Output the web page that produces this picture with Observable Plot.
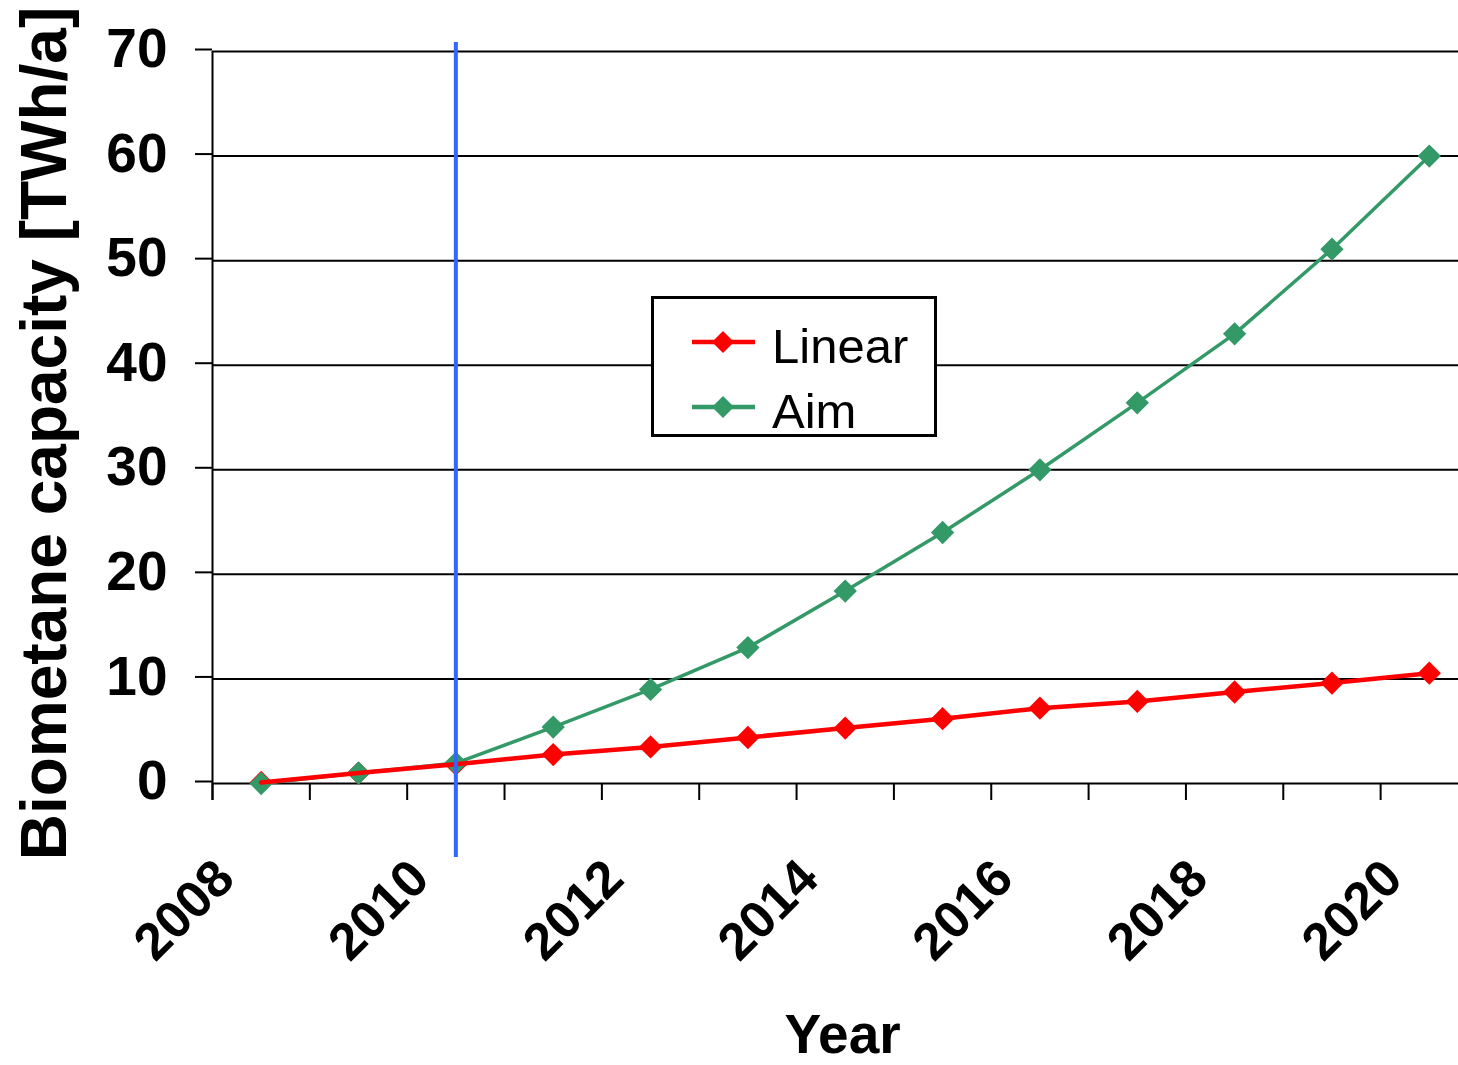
<!DOCTYPE html>
<html>
<head>
<meta charset="utf-8">
<script src="https://cdn.jsdelivr.net/npm/d3@7"></script>
<script src="https://cdn.jsdelivr.net/npm/@observablehq/plot@0.6"></script>
<style>
  html, body { margin: 0; padding: 0; background: #fff; }
  #wrap { position: relative; width: 1458px; height: 1065px; overflow: hidden; font-family: "Liberation Sans", Arial, sans-serif; }
  #legend { position: absolute; left: 651px; top: 296px; }
</style>
</head>
<body>
<div id="wrap"></div>
<script>
// ---- data ----
const years = [2008, 2009, 2010, 2011, 2012, 2013, 2014, 2015, 2016, 2017, 2018, 2019, 2020];
const linear = [0.1, 1.0, 1.85, 2.77, 3.5, 4.4, 5.3, 6.2, 7.2, 7.85, 8.75, 9.6, 10.55];
const aim = [0.0, 1.0, 1.95, 5.4, 9.0, 13.0, 18.4, 24.0, 30.0, 36.4, 43.0, 51.1, 60.0];
const yTicks = [0, 10, 20, 30, 40, 50, 60, 70];
const xLabelYears = [2008, 2010, 2012, 2014, 2016, 2018, 2020];
const presentYear = 2010;
const seriesNames = ["Linear", "Aim"];
const seriesColors = ["#FF0000", "#339966"];
const yTitle = "Biometane capacity [TWh/a]";
const xTitle = "Year";

const rows = years.map((year, i) => ({year, linear: linear[i], aim: aim[i]}));
const boundaries = d3.range(years[0] - 0.5, years[years.length - 1], 1);

const font = "Liberation Sans, Arial, sans-serif";

const chart = Plot.plot({
  width: 1458,
  height: 1065,
  marginLeft: 212,
  marginRight: 0,
  marginTop: 51,
  marginBottom: 282,
  style: {fontFamily: font, background: "#fff", color: "#000"},
  x: {domain: [years[0] - 0.5, 2020.3]},
  y: {domain: [0, 70]},
  marks: [
    Plot.gridY(yTicks, {stroke: "#000", strokeOpacity: 1, strokeWidth: 2}),
    Plot.axisY(yTicks, {tickSize: 17, tickPadding: 28, fontSize: 55, fontWeight: "bold", strokeWidth: 2, label: null, dy: -2}),
    Plot.axisX(boundaries, {tickSize: 17, tickFormat: () => "", strokeWidth: 2, label: null}),
    Plot.ruleX([boundaries[0]], {stroke: "#000", strokeWidth: 2, insetBottom: -17}),
    Plot.text(xLabelYears, {x: d => d, text: d => String(d), frameAnchor: "bottom", rotate: -45, textAnchor: "end", lineAnchor: "middle",
      dx: -36, dy: 86, fontSize: 52, fontWeight: "bold", fill: "#000"}),
    Plot.text([yTitle], {frameAnchor: "left", rotate: -90, textAnchor: "middle", lineAnchor: "middle",
      dx: -167, dy: 16, fontSize: 64, fontWeight: "bold", fill: "#000"}),
    Plot.text([xTitle], {frameAnchor: "bottom", textAnchor: "middle", lineAnchor: "middle",
      dx: 7, dy: 252, fontSize: 55, fontWeight: "bold", fill: "#000"}),
    Plot.dot(rows, {x: "year", y: "linear", symbol: "diamond2", r: 10.5, fill: seriesColors[0], stroke: "none"}),
    Plot.line(rows, {x: "year", y: "aim", stroke: seriesColors[1], strokeWidth: 3.5}),
    Plot.dot(rows, {x: "year", y: "aim", symbol: "diamond2", r: 10.5, fill: seriesColors[1], stroke: "none"}),
    Plot.line(rows, {x: "year", y: "linear", stroke: seriesColors[0], strokeWidth: 4.5}),
    Plot.ruleX([presentYear], {stroke: "#3366FF", strokeWidth: 4, insetTop: -9, insetBottom: -74})
  ]
});

const wrap = document.getElementById("wrap");
wrap.appendChild(chart);

// ---- legend (overlay) ----
const ns = "http://www.w3.org/2000/svg";
const leg = document.createElementNS(ns, "svg");
leg.setAttribute("id", "legend");
leg.setAttribute("width", 286);
leg.setAttribute("height", 141);
leg.innerHTML = `<rect x="1.5" y="1.5" width="283" height="138" fill="#fff" stroke="#000" stroke-width="3"/>`;
seriesNames.forEach((name, i) => {
  const cy = 46 + i * 65;
  const g = document.createElementNS(ns, "g");
  g.innerHTML =
    `<line x1="41" x2="104" y1="${cy}" y2="${cy}" stroke="${seriesColors[i]}" stroke-width="4.5"/>` +
    `<path d="M72,${cy - 11} L83,${cy} L72,${cy + 11} L61,${cy} Z" fill="${seriesColors[i]}"/>` +
    `<text x="121" y="${cy + 21}" font-family="${font}" font-size="49" fill="#000">${name}</text>`;
  leg.appendChild(g);
});
wrap.appendChild(leg);
</script>
</body>
</html>
